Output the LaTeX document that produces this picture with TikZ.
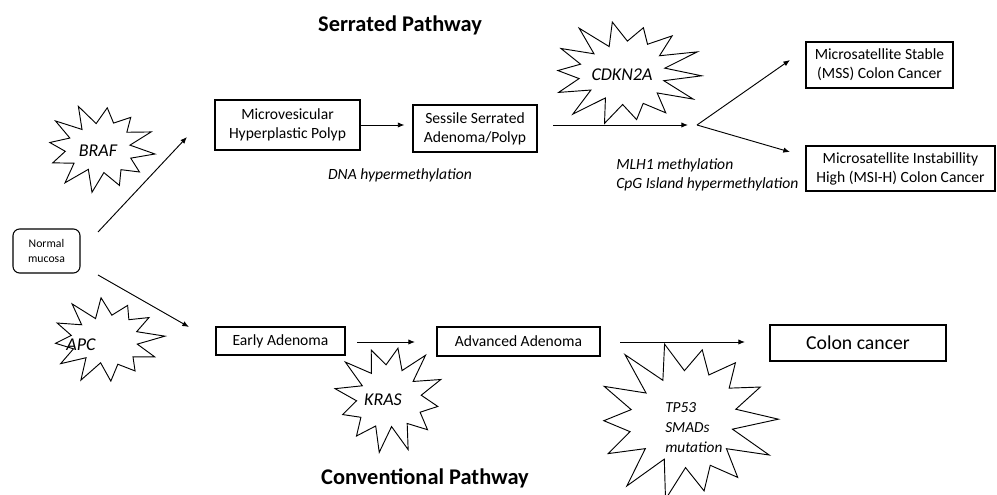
\documentclass[tikz,border=0pt]{standalone}
\usepackage{fontspec}
\setmainfont{Carlito}
\usetikzlibrary{arrows.meta,calc}
% irregular starburst outline: cx, cy, rx, ry, last sample index, phase, jitter seed
\newcommand\burstoutline[7]{%
  \draw[burst] plot[samples at={0,...,#5}, variable=\k]
    ({#1 + #3*(1-0.4*mod(\k,2))*(1+0.08*sin(\k*137.5+#7))*cos(\k*360/(#5+1)+#6)},
     {#2 + #4*(1-0.4*mod(\k,2))*(1+0.08*sin(\k*137.5+#7))*sin(\k*360/(#5+1)+#6)}) -- cycle;}
\begin{document}
\begin{tikzpicture}[x=0.75pt,y=-0.75pt,
  box/.style={draw, line width=0.8pt, align=center, inner sep=0pt,
    font=\fontsize{11.7}{14.25}\selectfont},
  arr/.style={-{Latex[length=5pt,width=4pt]}, line width=0.7pt},
  note/.style={font=\fontsize{11.7}{14.25}\selectfont\itshape, align=left, inner sep=0pt},
  burstlbl/.style={font=\fontsize{13.5}{15}\selectfont\itshape, align=left, inner sep=0pt},
  heading/.style={font=\fontsize{16.8}{19}\selectfont\bfseries, inner sep=0pt},
  burst/.style={line width=0.7pt, line join=miter, miter limit=20}]
\useasboundingbox (0,0) rectangle (997,495);

% headings
\node[heading] (serrt) at (400,25) {Serrated Pathway};
\node[heading] (convt) at (425,478) {Conventional Pathway};

% starting tissue
\node[box, rounded corners=5pt, minimum width=50.25pt, minimum height=33pt,
  font=\fontsize{8.8}{11}\selectfont] (nm) at (46.5,251) {Normal\\mucosa};

% serrated pathway boxes
\node[box, minimum width=108.75pt, minimum height=37.5pt] (mhp) at (287.5,125)
  {Microvesicular\\Hyperplastic Polyp};
\node[box, minimum width=93pt, minimum height=35.25pt] (ssa) at (475,128.5)
  {Sessile Serrated\\Adenoma/Polyp};
\node[box, minimum width=110.25pt, minimum height=34.5pt] (mss) at (879.5,65)
  {Microsatellite Stable\\(MSS) Colon Cancer};
\node[box, minimum width=141.75pt, minimum height=33.75pt] (msi) at (900.5,168.5)
  {Microsatellite Instabillity\\High (MSI-H) Colon Cancer};

% conventional pathway boxes
\node[box, minimum width=96.75pt, minimum height=21pt] (ead) at (280.5,341) {Early Adenoma};
\node[box, minimum width=122.25pt, minimum height=21.75pt] (aad) at (518.5,341.5) {Advanced Adenoma};
\node[box, minimum width=132pt, minimum height=27pt, font=\fontsize{14.8}{17}\selectfont]
  (cc) at (858,343) {Colon cancer};

% mutation bursts
\burstoutline{100}{148}{54}{42}{23}{8}{20}
\node[burstlbl] (braf) at (98,151) {BRAF};
\burstoutline{106}{340}{55}{41}{23}{-5}{70}
\node[burstlbl] (apc) at (81,345) {APC};
\burstoutline{625}{73}{73}{51}{27}{3}{140}
\node[burstlbl] (cdkn) at (622,75) {CDKN2A};
\burstoutline{389}{398}{53}{52}{23}{-80}{200}
\node[burstlbl] (kras) at (383,400) {KRAS};
\burstoutline{685}{420}{88}{78}{27}{-52}{300}
\node[burstlbl, font=\fontsize{11.5}{15}\selectfont\itshape, anchor=west]
  (tp53) at (665,428) {TP53\\SMADs\\mutation};

% annotations
\node[note] (dna) at (400,175) {DNA hypermethylation};
\node[note, anchor=west] (mlh) at (616,175) {MLH1 methylation\\CpG Island hypermethylation};

% connectors
\coordinate (upS) at (98,232);
\coordinate (upE) at (187,137);
\coordinate (dnS) at (98,275);
\coordinate (dnE) at (189,327);
\draw[arr] (upS) -- (upE);
\draw[arr] (dnS) -- (dnE);
\draw[arr, shorten >=6pt] (mhp.east) -- (mhp.east -| ssa.west);
\coordinate (ssaS) at (553,125);
\coordinate (ssaE) at (688,125);
\draw[arr] (ssaS) -- (ssaE);
\coordinate (fork) at (697,125);
\coordinate (forkU) at (790,60);
\coordinate (forkD) at (790,152);
\draw[arr] (fork) -- (forkU);
\draw[arr] (fork) -- (forkD);
\coordinate (eadS) at (357,342);
\coordinate (eadE) at (415,342);
\draw[arr] (eadS) -- (eadE);
\coordinate (aadS) at (620,342);
\coordinate (aadE) at (745,342);
\draw[arr] (aadS) -- (aadE);
\end{tikzpicture}
\end{document}
